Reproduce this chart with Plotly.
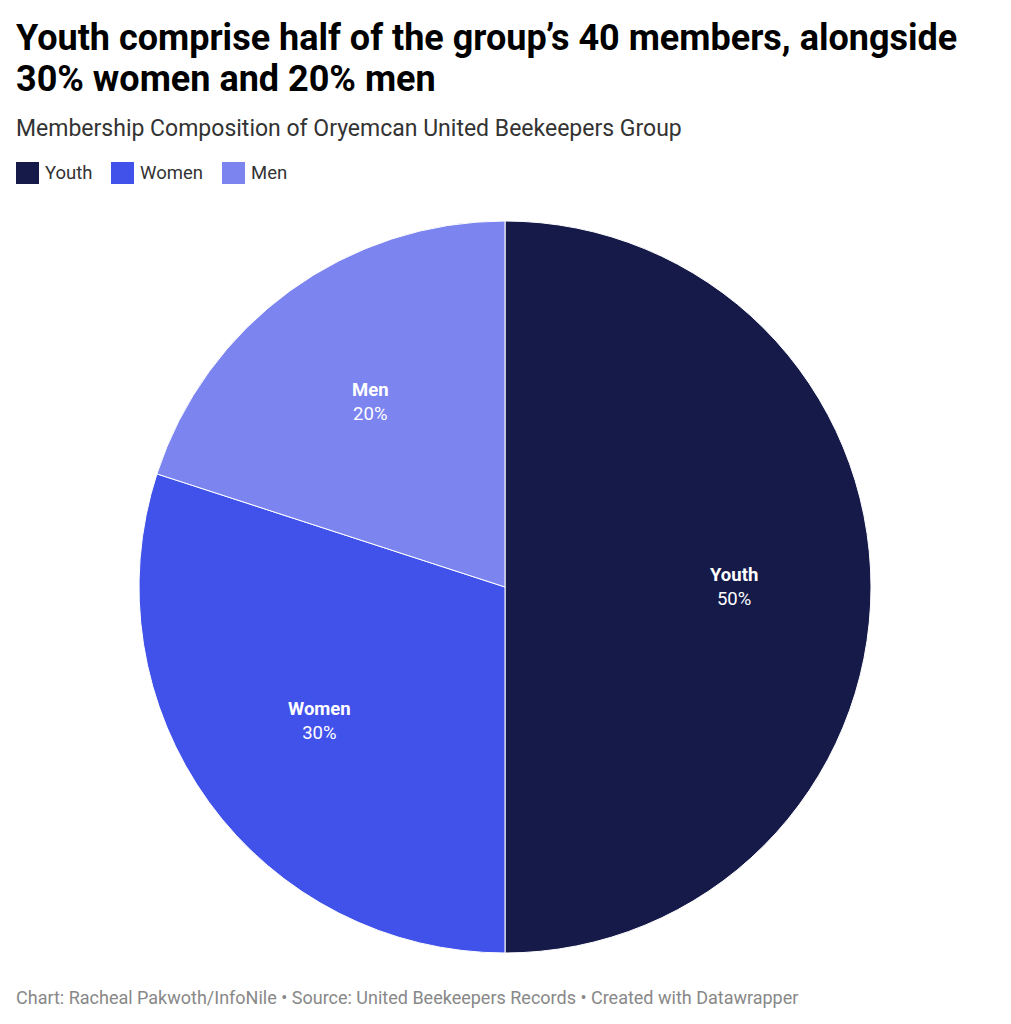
import math
import plotly.graph_objects as go

# ---- data ----
categories = ["Youth", "Women", "Men"]
members = [20, 12, 8]
colors = ["#151a49", "#4152eb", "#7b84ef"]

title_lines = ["Youth comprise half of the group’s 40 members, alongside",
               "30% women and 20% men"]
subtitle = "Membership Composition of Oryemcan United Beekeepers Group"
footer = "Chart: Racheal Pakwoth/InfoNile • Source: United Beekeepers Records • Created with Datawrapper"

# page has an 8px body margin; the figure is sized to fit the window
OFF = 8
W, H = 1011 - OFF, 1024 - OFF
FONT = "Roboto"

def px(x):
    return (x - OFF) / W

def py(y):
    return 1 - (y - OFF) / H

# pie geometry (screen px)
CX, CY, R = 505, 587, 366

fig = go.Figure()
fig.add_trace(go.Pie(
    labels=categories,
    values=members,
    sort=False,
    direction="clockwise",
    rotation=0,
    marker=dict(colors=colors, line=dict(color="#ffffff", width=1)),
    textinfo="none",
    hoverinfo="label+value+percent",
    showlegend=False,
    domain=dict(x=[px(CX - R), px(CX + R)], y=[py(CY + R), py(CY - R)]),
))

annotations = []

# slice labels placed along each slice's mid-angle
total = sum(members)
cum = 0
for cat, v in zip(categories, members):
    mid = (cum + v / 2) / total * 2 * math.pi  # clockwise from 12 o'clock
    cum += v
    lx = CX + 0.625 * R * math.sin(mid)
    ly = CY - 0.625 * R * math.cos(mid)
    annotations.append(dict(
        text=f"<b>{cat}</b><br>{round(v / total * 100)}%",
        x=px(lx), y=py(ly), xref="paper", yref="paper",
        xanchor="center", yanchor="middle", showarrow=False, align="center",
        font=dict(family=FONT, size=18.5, color="#ffffff")))

# title lines
for i, line in enumerate(title_lines):
    annotations.append(dict(
        text=f"<b>{line}</b>", x=px(14), y=py(38 + 41 * i), xref="paper", yref="paper",
        xanchor="left", yanchor="middle", showarrow=False,
        font=dict(family=FONT, size=36, color="#000000")))
annotations.append(dict(
    text=subtitle, x=px(14), y=py(128), xref="paper", yref="paper",
    xanchor="left", yanchor="middle", showarrow=False,
    font=dict(family=FONT, size=23, color="#333333")))
annotations.append(dict(
    text=footer, x=px(14), y=py(997), xref="paper", yref="paper",
    xanchor="left", yanchor="middle", showarrow=False,
    font=dict(family=FONT, size=18, color="#888888")))

# custom legend
shapes = []
legend_x = [16, 111, 222]
for cat, col, lx in zip(categories, colors, legend_x):
    shapes.append(dict(type="rect", xref="paper", yref="paper",
                       x0=px(lx), x1=px(lx + 23), y0=py(184), y1=py(162),
                       fillcolor=col, line=dict(width=0)))
    annotations.append(dict(
        text=cat, x=px(lx + 27), y=py(173), xref="paper", yref="paper",
        xanchor="left", yanchor="middle", showarrow=False,
        font=dict(family=FONT, size=18.5, color="#333333")))

fig.update_layout(
    width=W, height=H,
    margin=dict(l=0, r=0, t=0, b=0),
    paper_bgcolor="#ffffff",
    plot_bgcolor="#ffffff",
    annotations=annotations,
    shapes=shapes,
    font=dict(family=FONT),
)

fig.write_html("out.html")
